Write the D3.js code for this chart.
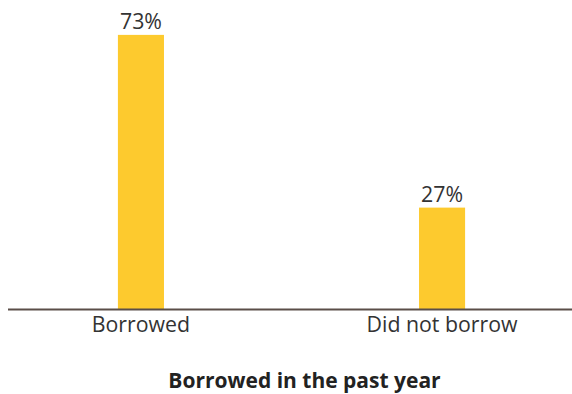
<!DOCTYPE html>
<html>
<head>
<meta charset="utf-8">
<script src="https://cdn.jsdelivr.net/npm/d3@7"></script>
<style>
  html, body { margin: 0; padding: 0; background: #fff; }
  svg { display: block; font-family: "Open Sans", sans-serif; }
</style>
</head>
<body>
<svg id="chart" width="572" height="394"></svg>
<script>
// Share of respondents by borrowing status
const categories = ["Borrowed", "Did not borrow"];
const values = [73, 27];
const valueLabels = ["73%", "27%"];
const axisTitle = "Borrowed in the past year";

const svg = d3.select("#chart");

const baseline = 309;
const x = d3.scaleBand()
  .domain(categories)
  .range([8, 575])
  .paddingInner(0.847)
  .paddingOuter(0.365);

const y = d3.scaleLinear()
  .domain([0, 100])
  .range([baseline, baseline - 375.5]);

// bars
svg.append("g")
  .selectAll("rect")
  .data(categories)
  .join("rect")
  .attr("x", d => x(d))
  .attr("width", x.bandwidth())
  .attr("y", (d, i) => y(values[i]))
  .attr("height", (d, i) => y(0) - y(values[i]))
  .attr("fill", "#fdca2e");

// value labels
svg.append("g")
  .selectAll("text")
  .data(categories)
  .join("text")
  .attr("x", d => x(d) + x.bandwidth() / 2)
  .attr("y", (d, i) => y(values[i]) - 5.5)
  .attr("text-anchor", "middle")
  .attr("font-size", 21.3)
  .attr("fill", "#333")
  .text((d, i) => valueLabels[i]);

// category axis
const axis = svg.append("g")
  .attr("transform", `translate(0,${baseline})`)
  .call(d3.axisBottom(x).tickSize(0).tickPadding(8));
axis.select(".domain").remove();
axis.selectAll(".tick text")
  .attr("font-family", "'Open Sans', sans-serif")
  .attr("font-size", 21.3)
  .attr("fill", "#333");

svg.append("line")
  .attr("x1", 8).attr("x2", 572)
  .attr("y1", baseline + 0.5).attr("y2", baseline + 0.5)
  .attr("stroke", "#5a4e48")
  .attr("stroke-width", 2);

// axis title
svg.append("text")
  .attr("x", 304.5)
  .attr("y", 388)
  .attr("text-anchor", "middle")
  .attr("font-size", 21)
  .attr("font-weight", 700)
  .attr("fill", "#222")
  .text(axisTitle);
</script>
</body>
</html>
